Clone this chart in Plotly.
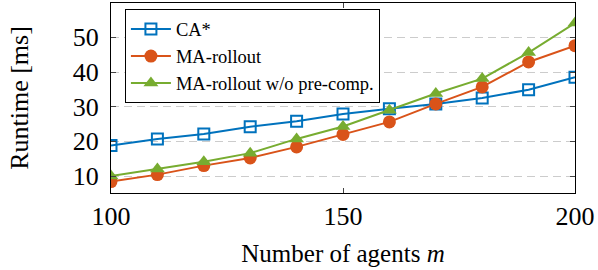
import plotly.graph_objects as go

agents = [100, 110, 120, 130, 140, 150, 160, 170, 180, 190, 200]
ca_star = [18.8, 20.7, 22.1, 24.2, 25.8, 27.9, 29.4, 30.8, 32.5, 34.9, 38.5]
ma_rollout = [8.4, 10.4, 13.0, 15.2, 18.4, 22.0, 25.6, 30.8, 35.7, 42.9, 47.6]
ma_rollout_nopre = [10.0, 12.0, 14.1, 16.6, 20.7, 24.3, 29.0, 33.8, 38.1, 45.6, 54.1]

names = ["CA*", "MA-rollout", "MA-rollout w/o pre-comp."]
colors = ["#0072BD", "#D95319", "#77AC30"]
FONT = "Liberation Serif"

fig = go.Figure()
fig.add_trace(go.Scatter(x=agents, y=ca_star, name=names[0], mode="lines+markers",
                         line=dict(color=colors[0], width=2),
                         marker=dict(symbol="square-open", size=11, color=colors[0], line=dict(width=2))))
fig.add_trace(go.Scatter(x=agents, y=ma_rollout, name=names[1], mode="lines+markers",
                         line=dict(color=colors[1], width=2),
                         marker=dict(symbol="circle", size=13, color=colors[1])))
fig.add_trace(go.Scatter(x=agents, y=ma_rollout_nopre, name=names[2], mode="lines+markers",
                         line=dict(color=colors[2], width=2),
                         marker=dict(symbol="triangle-up", size=13, color=colors[2])))

fig.update_layout(
    width=598, height=270,
    margin=dict(l=111, r=23, t=3, b=77),
    paper_bgcolor="white", plot_bgcolor="white",
    font=dict(family=FONT, size=26, color="black"),
    showlegend=True,
    legend=dict(x=0.030, y=0.966, xanchor="left", yanchor="top",
                bordercolor="black", borderwidth=1, bgcolor="white",
                font=dict(size=18.5, family=FONT), tracegroupgap=0,
                itemwidth=40),
    xaxis=dict(range=[100, 200], tickvals=[100, 150, 200], ticks="inside", ticklen=5,
               showline=True, linecolor="black", linewidth=1, mirror="ticks",
               showgrid=False, zeroline=False,
               title=dict(text="Number of agents <i>m</i>", standoff=14, font=dict(size=25)),
               tickfont=dict(size=26)),
    yaxis=dict(range=[5.1, 59.9], tickvals=[10, 20, 30, 40, 50], ticks="inside", ticklen=5,
               showline=True, linecolor="black", linewidth=1, mirror="ticks",
               showgrid=True, gridcolor="#cccccc", griddash="8px,5px", gridwidth=1,
               zeroline=False, ticklabelstandoff=6,
               title=dict(text="Runtime [ms]", standoff=36, font=dict(size=26)),
               tickfont=dict(size=26)),
)

fig.write_html("out.html", config={"displayModeBar": False},
               post_script="document.body.style.margin='0';document.body.style.overflow='hidden';")
